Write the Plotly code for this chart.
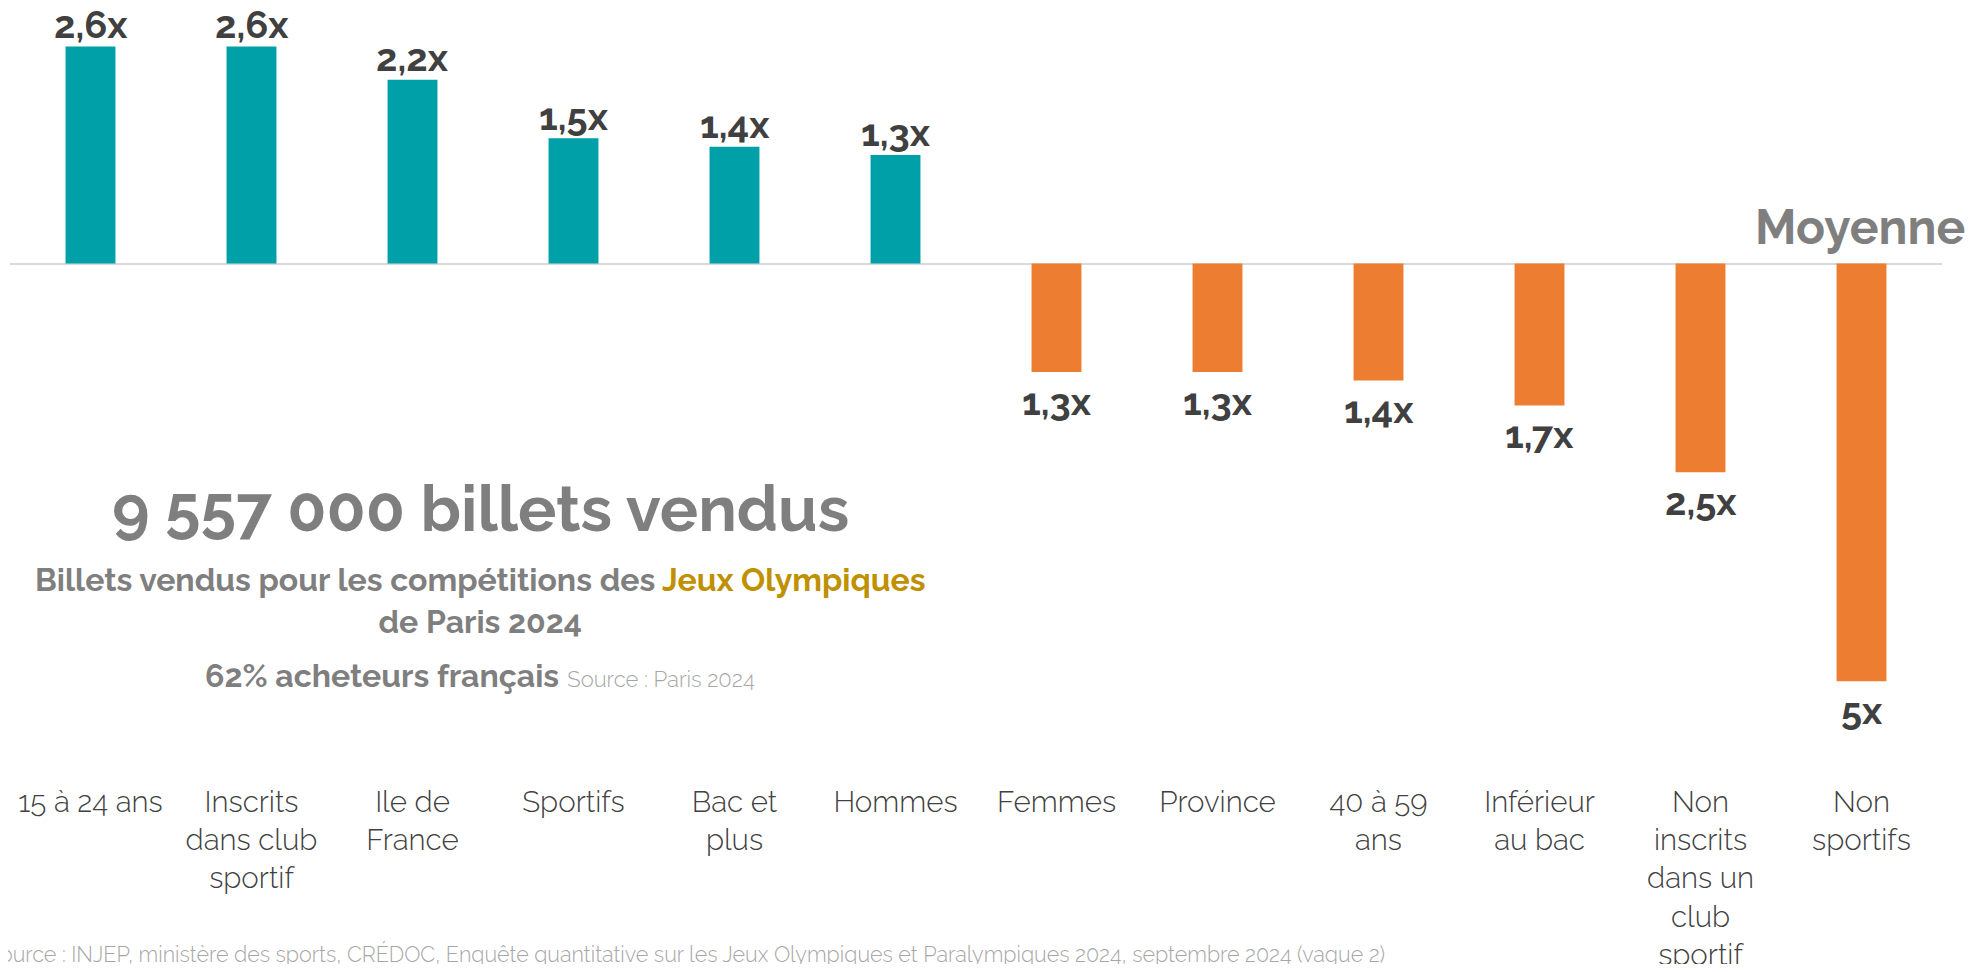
import plotly.graph_objects as go

# ---- data ----
categories = ["15 à 24 ans", "Inscrits\ndans club\nsportif", "Ile de\nFrance", "Sportifs",
              "Bac et\nplus", "Hommes", "Femmes", "Province", "40 à 59\nans",
              "Inférieur\nau bac", "Non\ninscrits\ndans un\nclub\nsportif", "Non\nsportifs"]
values = [2.6, 2.6, 2.2, 1.5, 1.4, 1.3, -1.3, -1.3, -1.4, -1.7, -2.5, -5.0]
value_labels = ["2,6x", "2,6x", "2,2x", "1,5x", "1,4x", "1,3x",
                "1,3x", "1,3x", "1,4x", "1,7x", "2,5x", "5x"]

TEAL = "#00A0A8"
ORANGE = "#ED7D31"
DARK = "#404040"
GREY = "#7f7f7f"
LIGHT = "#a6a6a6"
GOLD = "#BF9000"
FONT = "Raleway, 'Open Sans', sans-serif"

OFF = 8                       # page body margin in the browser
W, H = 1977 - 2 * OFF, 972 - 2 * OFF
L, R, T, B = 2, 27, 5, 191
pw, ph = W - L - R, H - T - B
PX0, PY1 = L + OFF, T + OFF + ph   # plot area left / bottom in screen pixels


def xp(px):
    return (px - PX0) / pw


def yp(py):
    return (PY1 - py) / ph


xs = list(range(len(categories)))
colors = [TEAL if v > 0 else ORANGE for v in values]

fig = go.Figure()
fig.add_trace(go.Bar(x=xs, y=values, marker=dict(color=colors, line=dict(width=0)),
                     width=0.31, hoverinfo="skip"))

annotations = []
for x, v, lab in zip(xs, values, value_labels):
    annotations.append(dict(x=x, y=v, xref="x", yref="y", text=lab, showarrow=False,
                            yanchor="middle", yshift=22 if v > 0 else -29,
                            font=dict(family=FONT, size=38, color=DARK, weight=700)))

annotations += [
    dict(x=xp(1967), y=yp(227), xref="paper", yref="paper", text="Moyenne",
         xanchor="right", yanchor="middle", showarrow=False,
         font=dict(family=FONT, size=48, color=GREY, weight=700)),
    dict(x=xp(480), y=yp(508), xref="paper", yref="paper", text="9 557 000 billets vendus",
         xanchor="center", yanchor="middle", showarrow=False,
         font=dict(family=FONT, size=64, color=GREY, weight=700)),
    dict(x=xp(480), y=yp(600), xref="paper", yref="paper",
         text="Billets vendus pour les compétitions des <span style='color:" + GOLD +
              "'>Jeux Olympiques</span><br>de Paris 2024",
         xanchor="center", yanchor="middle", showarrow=False, align="center",
         font=dict(family=FONT, size=32, color=GREY, weight=700)),
    dict(x=xp(480), y=yp(675), xref="paper", yref="paper",
         text="<b>62% acheteurs français</b> <span style='font-size:22px;font-weight:300;color:" +
              LIGHT + "'>Source : Paris 2024</span>",
         xanchor="center", yanchor="middle", showarrow=False,
         font=dict(family=FONT, size=32, color=GREY)),
    dict(x=xp(1387), y=yp(954), xref="paper", yref="paper",
         text="Source : INJEP, ministère des sports, CRÉDOC, Enquête quantitative sur les Jeux "
              "Olympiques et Paralympiques 2024, septembre 2024 (vague 2)",
         xanchor="right", yanchor="middle", showarrow=False,
         font=dict(family=FONT, size=21.5, color=LIGHT, weight=300)),
]

fig.update_layout(
    width=W, height=H,
    margin=dict(l=L, r=R, t=T, b=B, autoexpand=False),
    paper_bgcolor="white", plot_bgcolor="white",
    showlegend=False,
    annotations=annotations,
    xaxis=dict(tickmode="array", tickvals=xs,
               ticktext=[c.replace("\n", "<br>") for c in categories],
               tickfont=dict(family=FONT, size=29.5, color=DARK, weight=300),
               ticklabelstandoff=8, automargin=False,
               showgrid=False, showline=False, zeroline=False, ticks="",
               range=[-0.5, len(categories) - 0.5], fixedrange=True),
    yaxis=dict(range=[-6.1, 3.0], showgrid=False, showticklabels=False, ticks="",
               automargin=False,
               zeroline=True, zerolinecolor="#d9d9d9", zerolinewidth=2,
               showline=False, fixedrange=True),
)

fig.write_html("out.html")
